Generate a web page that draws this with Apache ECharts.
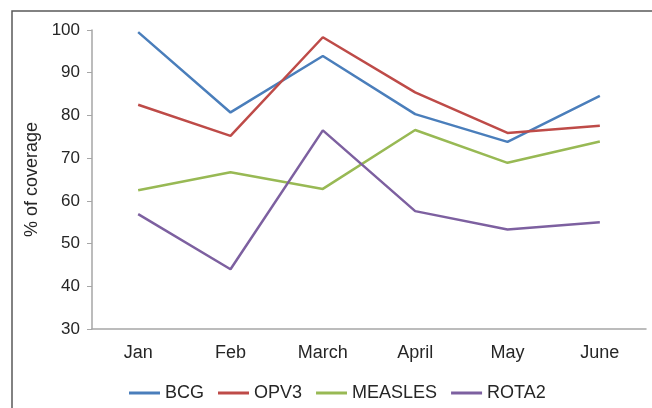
<!DOCTYPE html>
<html>
<head>
<meta charset="utf-8">
<script src="https://cdn.jsdelivr.net/npm/echarts@6/dist/echarts.min.js"></script>
<style>
html, body { margin: 0; padding: 0; background: #fff; }
#chart { width: 652px; height: 408px; }
</style>
</head>
<body>
<div id="chart"></div>
<script>
// months on the x axis
var months = ["Jan", "Feb", "March", "April", "May", "June"];
// % of coverage
var bcg = [99.5, 80.7, 93.9, 80.3, 73.8, 84.6];
var opv3 = [82.5, 75.2, 98.3, 85.4, 75.9, 77.6];
var measles = [62.5, 66.7, 62.8, 76.6, 68.9, 73.9];
var rota2 = [56.9, 44.0, 76.5, 57.6, 53.3, 55.0];

var chart = echarts.init(document.getElementById("chart"));

function lineSeries(name, data, color) {
  return {
    name: name,
    type: "line",
    data: data,
    symbol: "none",
    lineStyle: { color: color, width: 2.5 },
    itemStyle: { color: color }
  };
}

var option = {
  animation: false,
  textStyle: { fontFamily: "Liberation Sans, Arial, sans-serif" },
  graphic: [
    {
      type: "polyline",
      shape: { points: [[12, 420], [12, 11], [660, 11]] },
      style: { stroke: "#595959", lineWidth: 1.5, fill: null }
    }
  ],
  grid: { left: 92, top: 30, right: 6, bottom: 79 },
  legend: {
    top: 379,
    left: 124,
    icon: "rect",
    itemWidth: 31,
    itemHeight: 3,
    itemGap: 14,
    textStyle: { fontSize: 18, color: "#262626" },
    data: ["BCG", "OPV3", "MEASLES", "ROTA2"]
  },
  xAxis: {
    type: "category",
    data: months,
    boundaryGap: true,
    axisLine: { lineStyle: { color: "#a6a6a6", width: 1.5 } },
    axisTick: { show: false },
    axisLabel: { fontSize: 18, color: "#262626", margin: 15 },
    splitLine: { show: false }
  },
  yAxis: {
    type: "value",
    min: 30,
    max: 100,
    interval: 10,
    name: "% of coverage",
    nameLocation: "middle",
    nameRotate: 90,
    nameGap: 50,
    nameTextStyle: { fontSize: 18, color: "#262626" },
    axisLine: { show: true, lineStyle: { color: "#a6a6a6", width: 1.5 } },
    axisTick: { show: true, length: 5, lineStyle: { color: "#a6a6a6" } },
    axisLabel: { fontSize: 17, color: "#262626", margin: 12 },
    splitLine: { show: false }
  },
  series: [
    lineSeries("BCG", bcg, "#4a7ebb"),
    lineSeries("OPV3", opv3, "#be4b48"),
    lineSeries("MEASLES", measles, "#98b954"),
    lineSeries("ROTA2", rota2, "#7d60a0")
  ]
};

chart.setOption(option);
</script>
</body>
</html>
